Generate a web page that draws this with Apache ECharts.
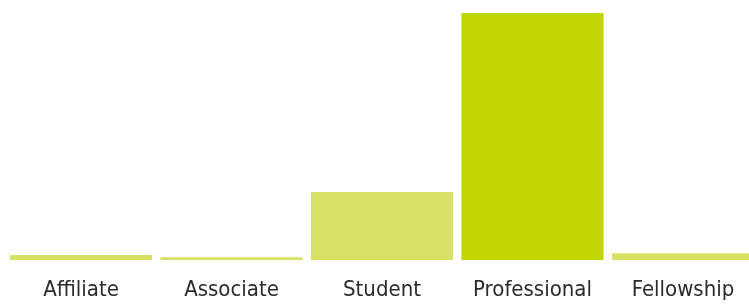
<!DOCTYPE html>
<html>
<head>
<meta charset="utf-8">
<script src="https://cdn.jsdelivr.net/npm/echarts@6/dist/echarts.min.js"></script>
<style>
  html, body { margin: 0; padding: 0; background: #fff; overflow: hidden; }
  /* the last bar runs past the right edge in the reference, so the canvas is a bit wider than the window */
  #chart { width: 760px; height: 304px; }
</style>
</head>
<body>
<div id="chart"></div>
<script>
var categories = ['Affiliate', 'Associate', 'Student', 'Professional', 'Fellowship'];
var members = [36, 20, 495, 1800, 50];
var highlighted = 'Professional';

var myChart = echarts.init(document.getElementById('chart'));
var option = {
    animation: false,
    grid: {
        left: 5.75,
        right: 1.75,
        top: 13,
        bottom: 44,
        containLabel: false
    },
    xAxis: {
        type: 'category',
        data: categories,
        axisLine: { show: false },
        axisTick: { show: false },
        axisLabel: {
            interval: 0,
            margin: 19,
            color: '#2b2b2b',
            fontFamily: '"DejaVu Sans Condensed", sans-serif',
            fontSize: 22
        }
    },
    yAxis: {
        type: 'value',
        min: 0,
        max: 1800,
        show: false,
        splitLine: { show: false }
    },
    series: [{
        type: 'bar',
        data: members,
        barCategoryGap: '5.6%',
        itemStyle: {
            color: function (p) {
                return p.name === highlighted ? '#bfd600' : '#d6e166';
            }
        }
    }]
};
myChart.setOption(option);
</script>
</body>
</html>
